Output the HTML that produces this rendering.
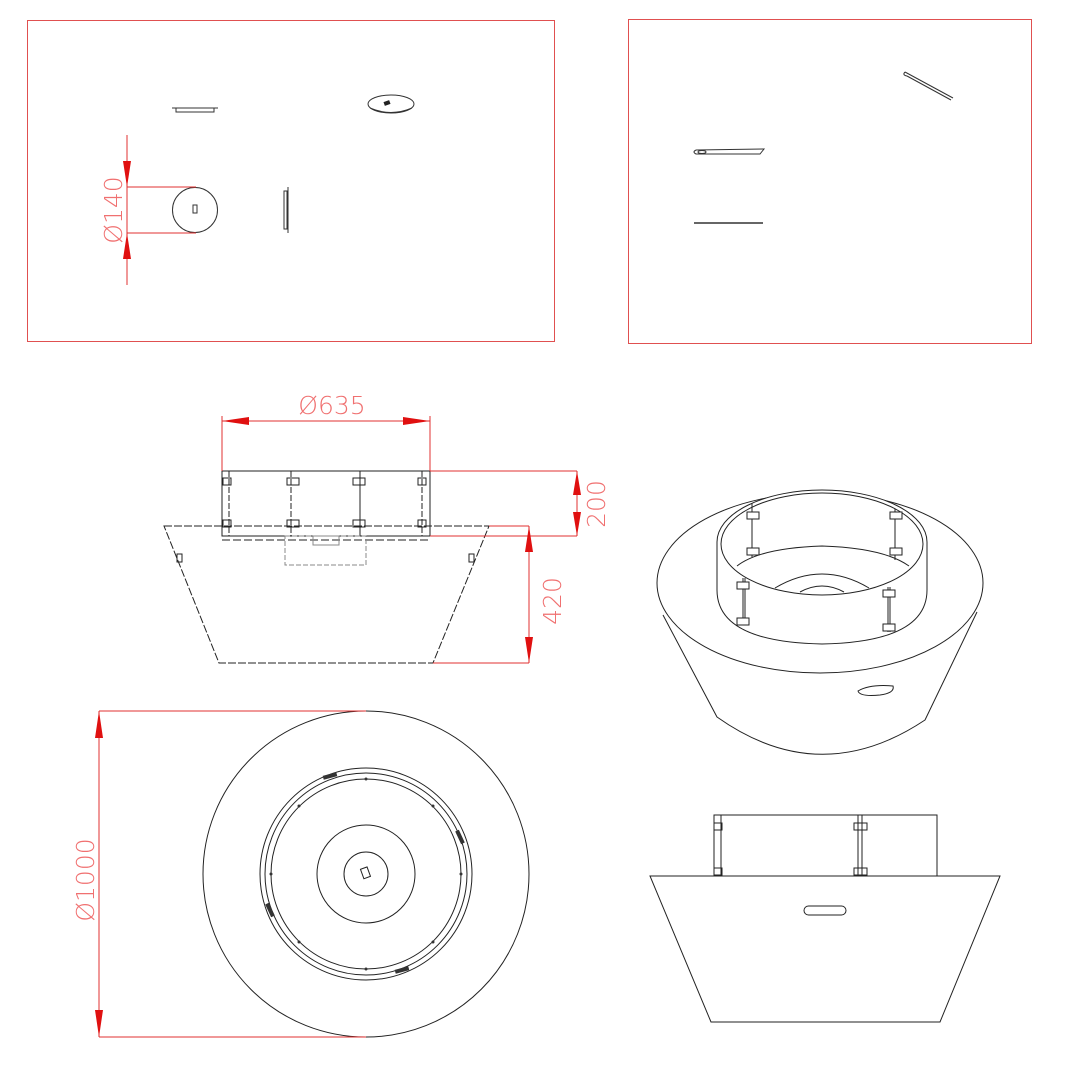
<!DOCTYPE html>
<html><head><style>html,body{margin:0;padding:0;background:#fff}svg{display:block}</style></head><body>
<svg width="1080" height="1080" viewBox="0 0 1080 1080" xmlns="http://www.w3.org/2000/svg" font-family="Liberation Sans, sans-serif">
<g fill="none" stroke="#e05050" stroke-width="1">
<rect x="27.5" y="20.5" width="527" height="321"/>
<rect x="628.5" y="19.5" width="403" height="324"/>
</g>
<g fill="none" stroke="#333" stroke-width="1">
<line x1="172" y1="108" x2="218" y2="108"/>
<rect x="176" y="108" width="38" height="4"/>
<ellipse cx="391" cy="104" rx="23" ry="9"/>
<path d="M370 108 Q391 117 412 108"/>
<circle cx="195" cy="210" r="22.5"/>
<rect x="193" y="205" width="4" height="8"/>
<line x1="288" y1="187" x2="288" y2="233"/>
<rect x="284" y="191" width="3" height="38"/>
</g>
<rect x="384" y="101" width="6" height="4" fill="#222" transform="rotate(-20 387 103)"/>
<g stroke="#e03030" stroke-width="1" fill="none">
<line x1="127" y1="135" x2="127" y2="285"/>
<line x1="127" y1="187" x2="196" y2="187"/>
<line x1="127" y1="233" x2="196" y2="233"/>
</g>
<g fill="#e01010"><polygon points="123,161 131,161 127,187"/><polygon points="123,259 131,259 127,233"/></g>
<text x="0" y="0" transform="translate(122,210) rotate(-90)" text-anchor="middle" font-size="25" fill="#f07070" font-family="DejaVu Sans, sans-serif" font-weight="200">Ø140</text>
<g fill="none" stroke="#333" stroke-width="1">
<path d="M905 72 L953 98 M907 76 L951 100 M905 72 Q902 75 907 76"/>
<path d="M696 150 L764 149 L760 154 L696 154 Q692 152 696 150"/>
<ellipse cx="702" cy="152" rx="4" ry="1.5"/>
<line x1="694" y1="223" x2="763" y2="223" stroke-width="1.5"/>
</g>
<g fill="none" stroke="#222" stroke-width="1">
<path d="M164 526 L489 526 L433 663 L219 663 Z" stroke-dasharray="8 2"/>
<rect x="222" y="471" width="208" height="65"/>
<line x1="229" y1="471" x2="229" y2="536" stroke-dasharray="6 2"/>
<line x1="291" y1="471" x2="291" y2="536" stroke-dasharray="6 2"/>
<line x1="360" y1="471" x2="360" y2="536"/>
<line x1="422" y1="471" x2="422" y2="536" stroke-dasharray="6 2"/>
<line x1="222" y1="540" x2="430" y2="540" stroke-dasharray="8 3"/>
<rect x="285" y="536" width="81" height="29" stroke="#888" stroke-dasharray="5 2"/>
<rect x="313" y="536" width="26" height="9" stroke="#888"/>
<rect x="223" y="478" width="8" height="7"/><rect x="287" y="478" width="12" height="7"/><rect x="353" y="478" width="12" height="7"/><rect x="418" y="478" width="8" height="7"/>
<rect x="223" y="520" width="8" height="7"/><rect x="287" y="520" width="12" height="7"/><rect x="353" y="520" width="12" height="7"/><rect x="418" y="520" width="8" height="7"/>
<rect x="177" y="554" width="5" height="8"/><rect x="469" y="554" width="5" height="8"/>
</g>
<g stroke="#e03030" stroke-width="1" fill="none">
<line x1="222" y1="416" x2="222" y2="471"/><line x1="430" y1="416" x2="430" y2="471"/>
<line x1="222" y1="421" x2="430" y2="421"/>
<line x1="430" y1="471" x2="577" y2="471"/><line x1="430" y1="536" x2="577" y2="536"/>
<line x1="577" y1="471" x2="577" y2="536"/>
<line x1="489" y1="526" x2="529" y2="526"/><line x1="433" y1="663" x2="529" y2="663"/>
<line x1="529" y1="526" x2="529" y2="663"/>
</g>
<g fill="#e01010">
<polygon points="222,421 249,417 249,425"/><polygon points="430,421 403,417 403,425"/>
<polygon points="577,471 573,495 581,495"/><polygon points="577,536 573,512 581,512"/>
<polygon points="529,526 525,552 533,552"/><polygon points="529,663 525,637 533,637"/>
</g>
<g fill="#f07070" font-size="25" font-family="DejaVu Sans, sans-serif" font-weight="200" text-anchor="middle">
<text x="332" y="414">Ø635</text>
<text transform="translate(605,504) rotate(-90)">200</text>
<text transform="translate(561,601) rotate(-90)">420</text>
<text transform="translate(94,880) rotate(-90)">Ø1000</text>
</g>
<g fill="none" stroke="#222" stroke-width="1">
<circle cx="366" cy="874" r="163"/>
<circle cx="366" cy="874" r="106"/>
<circle cx="366" cy="874" r="101"/>
<circle cx="366" cy="874" r="95"/>
<circle cx="366" cy="874" r="49"/>
<circle cx="366" cy="874" r="22"/>
<rect x="362" y="868" width="7" height="10" transform="rotate(-20 365 873)"/>
</g>
<g fill="#333"><circle cx="366" cy="779" r="1.5"/><circle cx="366" cy="969" r="1.5"/><circle cx="299" cy="806" r="1.5"/><circle cx="433" cy="806" r="1.5"/><circle cx="299" cy="942" r="1.5"/><circle cx="433" cy="942" r="1.5"/><circle cx="271" cy="874" r="1.5"/><circle cx="461" cy="874" r="1.5"/>
<rect x="323" y="774" width="14" height="4" transform="rotate(-15 330 776)"/><rect x="458" y="830" width="4" height="14" transform="rotate(-25 460 837)"/><rect x="268" y="903" width="4" height="14" transform="rotate(-25 270 910)"/><rect x="395" y="968" width="14" height="4" transform="rotate(-15 402 970)"/></g>
<g stroke="#e03030" stroke-width="1" fill="none">
<line x1="99" y1="711" x2="366" y2="711"/><line x1="99" y1="1037" x2="366" y2="1037"/>
<line x1="99" y1="711" x2="99" y2="1037"/>
</g>
<g fill="#e01010"><polygon points="99,711 95,738 103,738"/><polygon points="99,1037 95,1010 103,1010"/></g>
<!-- iso view -->
<g stroke="#222" stroke-width="1">
<path fill="none" d="M663 615 L717 717 Q820 790 925 720 L977 612"/>
<ellipse cx="820" cy="583" rx="163" ry="90" fill="#fff"/>
<path fill="#fff" d="M717 542 A105 52 0 0 1 927 542 L927 590 Q927 642 822 644 Q717 642 717 590 Z"/>
<ellipse cx="822" cy="544" rx="101" ry="51" fill="#fff"/>
<path fill="none" d="M737 566 Q760 548 822 546 Q884 548 909 566"/>
<path fill="none" d="M775 588 Q822 560 869 588"/>
<path fill="none" d="M800 592 Q822 580 844 592"/>
<g fill="none">
<line x1="752" y1="503" x2="752" y2="557"/><line x1="895" y1="509" x2="895" y2="560"/>
<line x1="743" y1="578" x2="743" y2="623"/><line x1="888" y1="587" x2="888" y2="632"/>
<line x1="745" y1="578" x2="745" y2="623"/><line x1="890" y1="587" x2="890" y2="632"/>
</g>
<g fill="#fff">
<rect x="747" y="512" width="12" height="7"/><rect x="747" y="548" width="12" height="7"/>
<rect x="890" y="512" width="12" height="7"/><rect x="890" y="548" width="12" height="7"/>
<rect x="737" y="582" width="12" height="7"/><rect x="737" y="618" width="12" height="7"/>
<rect x="883" y="590" width="12" height="7"/><rect x="883" y="624" width="12" height="7"/>
</g>
<path fill="none" d="M858 691 Q870 684 893 686 Q895 693 880 695 Q860 697 858 691Z"/>
</g>
<g fill="none" stroke="#222" stroke-width="1">
<path d="M650 876 L1000 876 L940 1022 L711 1022 Z"/>
<rect x="714" y="815" width="223" height="61"/>
<line x1="721" y1="815" x2="721" y2="876"/>
<line x1="858" y1="815" x2="858" y2="876"/><line x1="862" y1="815" x2="862" y2="876"/>
<rect x="714" y="823" width="8" height="7"/><rect x="714" y="868" width="8" height="7"/>
<rect x="854" y="823" width="13" height="7"/><rect x="854" y="868" width="13" height="7"/>
<rect x="804" y="906" width="42" height="9" rx="4.5"/>
</g>
</svg>
</body></html>
